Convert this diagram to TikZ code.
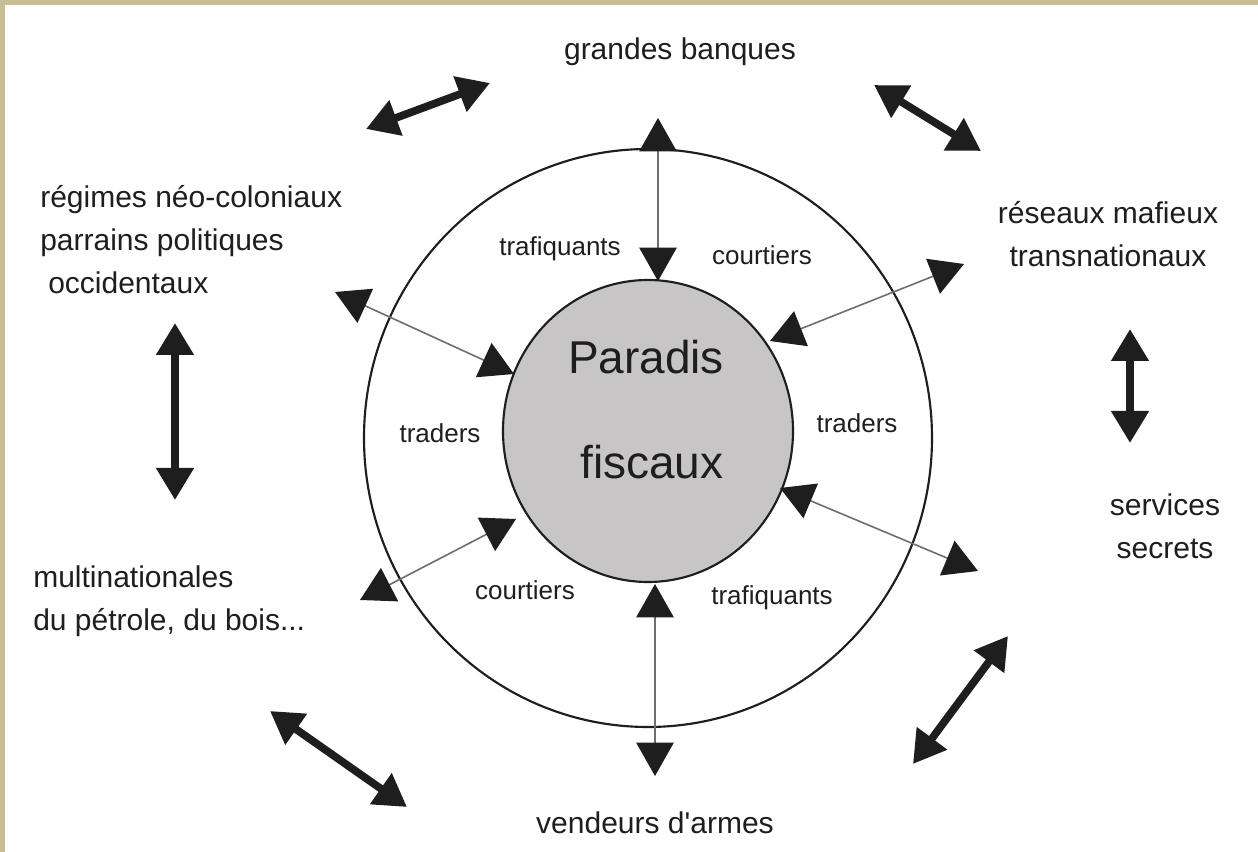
\documentclass[tikz,border=0pt]{standalone}
\usepackage{fontspec}
\setmainfont{Liberation Sans}
\usetikzlibrary{arrows.meta}
\definecolor{tan}{RGB}{200,190,150}
\definecolor{ink}{RGB}{30,30,30}
\definecolor{thin}{RGB}{110,110,110}
\definecolor{core}{RGB}{199,197,197}
\begin{document}
\begin{tikzpicture}[x=0.75pt,y=-0.75pt,
  lbl/.style={text=ink,font=\fontsize{22.5}{32.3}\selectfont,inner sep=0pt},
  small/.style={text=ink,font=\fontsize{19.5}{24}\selectfont,inner sep=0pt},
  big/.style={text=ink,font=\fontsize{34.5}{40}\selectfont,inner sep=0pt},
  link/.style={draw=thin,line width=1.2pt,
     {Triangle[length=25pt,width=28pt,color=ink,fill=ink]}-{Triangle[length=25pt,width=28pt,color=ink,fill=ink]}},
  bold/.style={draw=ink,line width=5.8pt,{Triangle[length=24pt,width=27pt]}-{Triangle[length=24pt,width=27pt]}}
]
\fill[white] (0,0) rectangle (1258,852);
\useasboundingbox (0,0) rectangle (1258,852);
\fill[tan] (0,0) rectangle (1258,5);
\fill[tan] (0,0) rectangle (5,852);

% circles
\draw[ink,line width=1.6pt] (648,438) ellipse [x radius=284,y radius=289];
\draw[ink,line width=1.6pt,fill=core] (648,431) ellipse [x radius=145,y radius=151];
\node[big] (p1) at (646,357) {Paradis};
\node[big] (p2) at (652,462) {fiscaux};

% inner labels
\node[small] (t1) at (560,249) {trafiquants};
\node[small] (c1) at (762,255) {courtiers};
\node[small] (tr1) at (440,433) {traders};
\node[small] (tr2) at (857,423) {traders};
\node[small] (c2) at (525,590) {courtiers};
\node[small] (t2) at (772,598) {trafiquants};

% outer labels
\node[lbl] (gb) at (680,52) {grandes banques};
\node[lbl,align=left,anchor=west] (rg) at (40,240) {régimes néo-coloniaux\\parrains politiques\\\hspace*{6pt}occidentaux};
\node[lbl,align=center] (rm) at (1108,234) {réseaux mafieux\\transnationaux};
\node[lbl,align=center] (ss) at (1165,526) {services\\secrets};
\node[lbl,align=left,anchor=west] (mn) at (33,601) {multinationales\\du pétrole, du bois...};
\node[lbl] (va) at (655,823) {vendeurs d\textquotesingle armes};

% thin arrows endpoints
\coordinate (a1o) at (658,118); \coordinate (a1i) at (658,281);
\coordinate (a2i) at (655,584); \coordinate (a2o) at (655,776);
\coordinate (a3o) at (335,292); \coordinate (a3i) at (514,374);
\coordinate (a4o) at (964,264); \coordinate (a4i) at (770,341);
\coordinate (a5i) at (780,488); \coordinate (a5o) at (978,571);
\coordinate (a6o) at (360,600); \coordinate (a6i) at (516,519);
\draw[link] (a1o) -- (a1i);
\draw[link] (a2i) -- (a2o);
\draw[link] (a3o) -- (a3i);
\draw[link] (a4o) -- (a4i);
\draw[link] (a5i) -- (a5o);
\draw[link] (a6o) -- (a6i);

% thick arrows
\coordinate (b1a) at (366,129); \coordinate (b1b) at (490,83);
\coordinate (b2a) at (874,85); \coordinate (b2b) at (981,151);
\coordinate (b3a) at (1130,329); \coordinate (b3b) at (1130,443);
\coordinate (b4a) at (175,323); \coordinate (b4b) at (175,500);
\coordinate (b5a) at (1008,636); \coordinate (b5b) at (913,764);
\coordinate (b6a) at (270,711); \coordinate (b6b) at (407,807);
\draw[bold] (b1a) -- (b1b);
\draw[bold] (b2a) -- (b2b);
\draw[bold] (b3a) -- (b3b);
\draw[bold] (b4a) -- (b4b);
\draw[bold] (b5a) -- (b5b);
\draw[bold] (b6a) -- (b6b);
\end{tikzpicture}
\end{document}
